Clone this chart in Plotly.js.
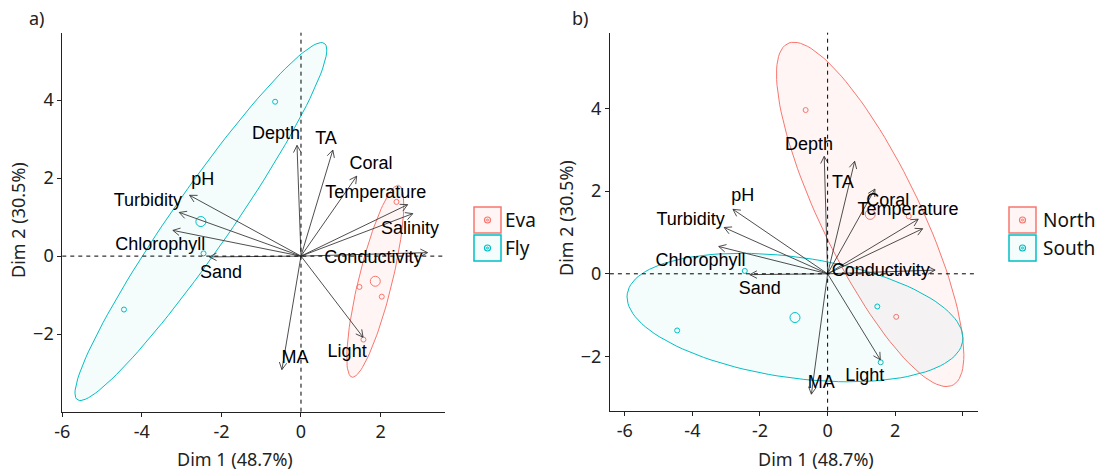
<!DOCTYPE html>
<html>
<head>
<meta charset="utf-8">
<script src="https://cdn.plot.ly/plotly-3.0.1.min.js"></script>
<style>html,body{margin:0;padding:0;background:#fff}#chart{width:1095px;height:472px}</style>
</head>
<body>
<div id="chart"></div>
<script>
// ---------- data ----------
const variables = ['Depth','TA','Coral','Temperature','Salinity','Conductivity','Light','MA','Sand','Chlorophyll','Turbidity','pH'];
const loadX = [-0.10, 0.80, 1.40, 2.68, 2.81, 3.18, 1.56, -0.48, -2.30, -3.22, -3.06, -2.80];
const loadY = [2.84, 2.72, 2.05, 1.32, 1.09, 0.09, -2.08, -2.91, -0.02, 0.66, 1.12, 1.56];

// label positions (panel a / panel b)
const labAX = [-0.63, 0.63, 1.76, 1.88, 2.74, 1.82, 1.16, -0.15, -2.01, -3.54, -3.85, -2.47];
const labAY = [3.12, 3.00, 2.35, 1.61, 0.68, -0.06, -2.48, -2.62, -0.44, 0.26, 1.39, 1.95];
const labBX = [-0.55, 0.45, 1.78, 2.38, null, 1.57, 1.10, -0.19, -2.01, -3.76, -4.05, -2.51];
const labBY = [3.11, 2.19, 1.74, 1.52, null, 0.05, -2.48, -2.65, -0.37, 0.29, 1.30, 1.88];

const siteX = [-0.65, -2.45, -4.45, 2.40, 1.47, 2.03, 1.57];
const siteY = [3.96, 0.07, -1.37, 1.39, -0.79, -1.04, -2.14];
const siteA = ['Fly','Fly','Fly','Eva','Eva','Eva','Eva'];
const siteB = ['North','South','South','North','South','North','South'];

const groupsA = ['Eva','Fly'];
const groupsB = ['North','South'];
const ellipseLevel = 0.75;

const xTicksA = [-6,-4,-2,0,2];
const xTicksB = [-6,-4,-2,0,2,4];
const xTextB = ['-6','-4','-2','0','2',''];
const yTicks = [-2,0,2,4];

// ---------- style / layout ----------
const W = 1095, H = 472;
const colors = ['#F8766D', '#00BFC4'];
const fills = ['rgba(248,118,109,0.07)', 'rgba(0,191,196,0.045)'];
const FONT = 'Noto Sans, Open Sans, sans-serif';
const LABFONT = 'Liberation Sans, Arial, sans-serif';

const panels = {
  a: {xdom: [62.3, 445], ydom: [32.7, 411.7], xr: [-6.0, 3.62], yr: [-3.99, 5.73]},
  b: {xdom: [609.9, 977.7], ydom: [32.7, 410.7], xr: [-6.44, 4.44], yr: [-3.31, 5.83]}
};

function mean(a){return a.reduce((s,v)=>s+v,0)/a.length;}

function ellipse(xs, ys){
  const n = xs.length, mx = mean(xs), my = mean(ys);
  let sxx=0, syy=0, sxy=0;
  for(let i=0;i<n;i++){const dx=xs[i]-mx, dy=ys[i]-my; sxx+=dx*dx; syy+=dy*dy; sxy+=dx*dy;}
  sxx/=(n-1); syy/=(n-1); sxy/=(n-1);
  const l11 = Math.sqrt(sxx), l21 = sxy/l11, l22 = Math.sqrt(Math.max(syy - l21*l21, 0));
  const r = Math.sqrt(-2*Math.log(1-ellipseLevel));
  const ex=[], ey=[];
  for(let k=0;k<=120;k++){
    const t = 2*Math.PI*k/120, c=Math.cos(t), s=Math.sin(t);
    ex.push(mx + r*(l11*c)); ey.push(my + r*(l21*c + l22*s));
  }
  return {ex, ey, mx, my};
}

const traces = [];
function addPanel(key, groups, member, xa, ya, labX, labY){
  const p = panels[key];
  groups.forEach((g, gi) => {
    const xs=[], ys=[];
    siteX.forEach((v,i)=>{ if(member[i]===g){ xs.push(v); ys.push(siteY[i]); } });
    const e = ellipse(xs, ys);
    traces.push({x:e.ex, y:e.ey, xaxis:xa, yaxis:ya, mode:'lines', fill:'toself',
      fillcolor:fills[gi], line:{color:colors[gi], width:1}, hoverinfo:'skip', showlegend:false});
    traces.push({x:xs, y:ys, xaxis:xa, yaxis:ya, mode:'markers', showlegend:false,
      marker:{symbol:'circle-open', size:5, color:colors[gi], line:{width:1}}});
    traces.push({x:[e.mx], y:[e.my], xaxis:xa, yaxis:ya, mode:'markers', showlegend:false,
      marker:{symbol:'circle-open', size:10, color:colors[gi], line:{width:1}}});
  });
  // arrows
  const sx = (p.xdom[1]-p.xdom[0])/(p.xr[1]-p.xr[0]);
  const sy = (p.ydom[1]-p.ydom[0])/(p.yr[1]-p.yr[0]);
  const ax=[], ay=[];
  const arm = 8, ang = 28*Math.PI/180;
  variables.forEach((v,i)=>{
    const tx = loadX[i], ty = loadY[i];
    ax.push(0, tx, null); ay.push(0, ty, null);
    const dpx = tx*sx, dpy = ty*sy, L = Math.hypot(dpx,dpy);
    const ux = -dpx/L, uy = -dpy/L;
    [ang, -ang].forEach(a=>{
      const rx = ux*Math.cos(a) - uy*Math.sin(a), ry = ux*Math.sin(a) + uy*Math.cos(a);
      ax.push(tx, tx + rx*arm/sx, null); ay.push(ty, ty + ry*arm/sy, null);
    });
  });
  traces.push({x:ax, y:ay, xaxis:xa, yaxis:ya, mode:'lines', line:{color:'#3a3a3a', width:0.9},
    hoverinfo:'skip', showlegend:false});
  traces.push({x:labX, y:labY, text:variables, xaxis:xa, yaxis:ya, mode:'text',
    textposition:'middle center', textfont:{family:LABFONT, size:18, color:'#000'},
    hoverinfo:'skip', showlegend:false});
}
addPanel('a', groupsA, siteA, 'x', 'y', labAX, labAY);
addPanel('b', groupsB, siteB, 'x2', 'y2', labBX, labBY);

function fx(v){return v/W;} function fy(v){return 1 - v/H;}
function axisX(p, ticks, text){
  return {domain:[fx(p.xdom[0]), fx(p.xdom[1])], range:p.xr, showgrid:false, zeroline:false,
    showline:true, linecolor:'#222', linewidth:1, ticks:'outside', ticklen:4, tickcolor:'#222',
    tickvals:ticks, ticktext:text, tickfont:{family:FONT, size:18, color:'#222'}, fixedrange:true};
}
function axisY(p, anchor){
  return {domain:[fy(p.ydom[1]), fy(p.ydom[0])], range:p.yr, showgrid:false, zeroline:false,
    showline:true, linecolor:'#222', linewidth:1, ticks:'outside', ticklen:4, tickcolor:'#222',
    tickvals:yTicks, tickfont:{family:FONT, size:18, color:'#222'}, anchor:anchor, fixedrange:true};
}

const shapes = [];
[['x','y'],['x2','y2']].forEach(([xa,ya])=>{
  shapes.push({type:'line', xref:xa, yref:ya+' domain', x0:0, x1:0, y0:0, y1:1,
    line:{color:'#000', width:1, dash:'4px,4px'}});
  shapes.push({type:'line', xref:xa+' domain', yref:ya, x0:0, x1:1, y0:0, y1:0,
    line:{color:'#000', width:1, dash:'4px,4px'}});
});

const annotations = [];
function ann(text, x, y, size, extra){
  annotations.push(Object.assign({text, x:fx(x), y:fy(y), xref:'paper', yref:'paper',
    showarrow:false, xanchor:'center', yanchor:'middle',
    font:{family:FONT, size:size, color:'#222'}}, extra||{}));
}
ann('a)', 37, 18, 18);
ann('b)', 580, 18, 18);
ann('Dim 1 (48.7%)', 235, 459, 18);
ann('Dim 1 (48.7%)', 816, 459, 18);
ann('Dim 2 (30.5%)', 18, 220, 18, {textangle:-90});
ann('Dim 2 (30.5%)', 566, 218, 18, {textangle:-90});

// custom legends
function legend(groups, bx, by, tx){
  const kw = 27, kh = 28;
  groups.forEach((g, gi)=>{
    const y0 = by + gi*kh;
    shapes.push({type:'rect', xref:'paper', yref:'paper', x0:fx(bx), x1:fx(bx+kw), y0:fy(y0+kh-1), y1:fy(y0+1),
      line:{color:colors[gi], width:1.5}, fillcolor:fills[gi]});
    const cx = bx+kw/2, cy = y0+kh/2;
    shapes.push({type:'circle', xref:'paper', yref:'paper', x0:fx(cx-3), x1:fx(cx+3), y0:fy(cy+3), y1:fy(cy-3),
      line:{color:colors[gi], width:1.2}});
    shapes.push({type:'circle', xref:'paper', yref:'paper', x0:fx(cx-1), x1:fx(cx+1), y0:fy(cy+1), y1:fy(cy-1),
      line:{color:colors[gi], width:1}});
    ann(g, tx, cy, 18, {xanchor:'left', font:{family:FONT, size:19, color:'#111'}});
  });
}
legend(groupsA, 474, 206, 503);
legend(groupsB, 1009, 206, 1041);

const layout = {
  width:W, height:H, margin:{l:0,r:0,t:0,b:0}, paper_bgcolor:'#fff', plot_bgcolor:'rgba(0,0,0,0)',
  showlegend:false,
  xaxis:Object.assign(axisX(panels.a, xTicksA, xTicksA.map(String)), {anchor:'y'}),
  yaxis:axisY(panels.a, 'x'),
  xaxis2:Object.assign(axisX(panels.b, xTicksB, xTextB), {anchor:'y2'}),
  yaxis2:axisY(panels.b, 'x2'),
  shapes, annotations
};
Plotly.newPlot('chart', traces, layout, {staticPlot:true});
</script>
</body>
</html>
